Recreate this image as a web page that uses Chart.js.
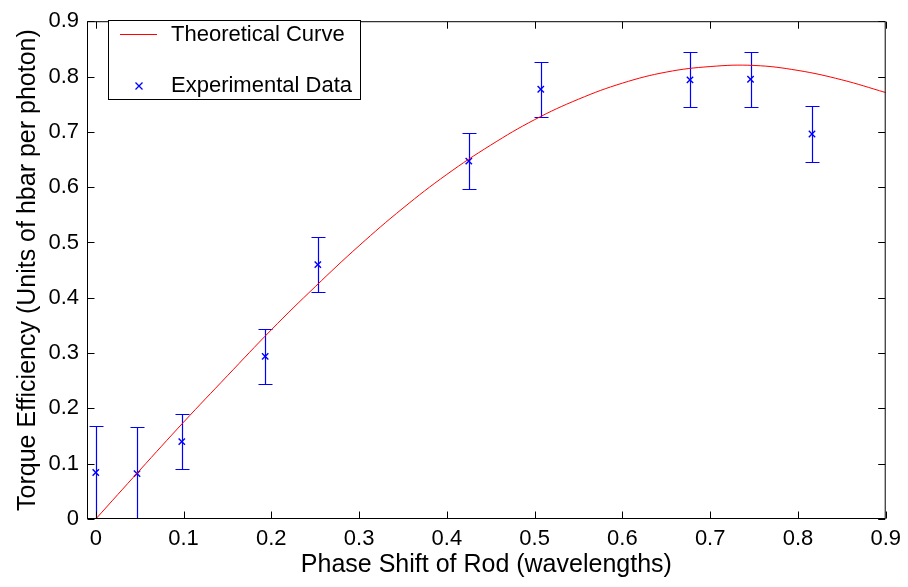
<!DOCTYPE html>
<html>
<head>
<meta charset="utf-8">
<script src="https://cdn.jsdelivr.net/npm/chart.js@4"></script>
<style>
html,body{margin:0;padding:0;background:#fff;}
canvas{display:block;}
</style>
</head>
<body>
<canvas id="c" width="908" height="587"></canvas>
<script>
// ---- data ----
const curveX = [0, 0.05, 0.10, 0.15, 0.20, 0.25, 0.30, 0.35, 0.40, 0.45, 0.50, 0.55, 0.60, 0.65, 0.70, 0.75, 0.80, 0.85, 0.90];
const curveY = [0, 0.088, 0.175, 0.259, 0.342, 0.420, 0.494, 0.562, 0.623, 0.676, 0.722, 0.759, 0.788, 0.808, 0.818, 0.820, 0.811, 0.794, 0.771];
const expX = [0, 0.047, 0.098, 0.193, 0.253, 0.425, 0.507, 0.677, 0.746, 0.816];
const expY = [0.084, 0.082, 0.140, 0.294, 0.460, 0.647, 0.777, 0.794, 0.795, 0.696];
const expErr = [0.085, 0.085, 0.05, 0.05, 0.05, 0.05, 0.05, 0.05, 0.05, 0.05];
const xTickLabels = ['0', '0.1', '0.2', '0.3', '0.4', '0.5', '0.6', '0.7', '0.8', '0.9'];
const yTickLabels = ['0', '0.1', '0.2', '0.3', '0.4', '0.5', '0.6', '0.7', '0.8', '0.9'];
const xTitle = 'Phase Shift of Rod (wavelengths)';
const yTitle = 'Torque Efficiency (Units of hbar per photon)';
const seriesNames = ['Theoretical Curve', 'Experimental Data'];

const FONT = '"Liberation Sans", Arial, Helvetica, sans-serif';
const FS = 22;
const FT = 25;

function tickLabel(arr, v) {
  const i = Math.round(v * 10);
  return arr[i] !== undefined ? arr[i] : '';
}

const frame = {
  id: 'frame',
  beforeDatasetsDraw(chart) {
    const {ctx, chartArea: a, scales} = chart;
    // error bars
    ctx.save();
    ctx.beginPath();
    ctx.rect(a.left, a.top, a.right - a.left, a.bottom - a.top);
    ctx.clip();
    ctx.strokeStyle = '#0000ff';
    ctx.lineWidth = 1.2;
    for (let i = 0; i < expX.length; i++) {
      const px = Math.round(scales.x.getPixelForValue(expX[i])) + 0.5;
      const yt = Math.round(scales.y.getPixelForValue(expY[i] + expErr[i])) + 0.5;
      const yb = Math.round(scales.y.getPixelForValue(expY[i] - expErr[i])) + 0.5;
      ctx.beginPath();
      ctx.moveTo(px, yt); ctx.lineTo(px, yb);
      ctx.moveTo(px - 7, yt); ctx.lineTo(px + 7, yt);
      ctx.moveTo(px - 7, yb); ctx.lineTo(px + 7, yb);
      ctx.stroke();
    }
    ctx.restore();
  },
  afterDraw(chart) {
    const {ctx, chartArea: a, scales} = chart;
    ctx.save();
    ctx.strokeStyle = '#000';
    ctx.lineWidth = 1;
    const L = a.left + 0.5, R = a.right - 0.5, T = a.top + 0.5, B = a.bottom - 0.5;
    ctx.strokeRect(L, T, R - L, B - T);
    const TL = 7;
    ctx.beginPath();
    scales.x.ticks.forEach(t => {
      const px = Math.round(scales.x.getPixelForValue(t.value)) + 0.5;
      ctx.moveTo(px, B); ctx.lineTo(px, B - TL);
      ctx.moveTo(px, T); ctx.lineTo(px, T + TL);
    });
    scales.y.ticks.forEach(t => {
      const py = Math.round(scales.y.getPixelForValue(t.value)) + 0.5;
      ctx.moveTo(L, py); ctx.lineTo(L + TL, py);
      ctx.moveTo(R, py); ctx.lineTo(R - TL, py);
    });
    ctx.stroke();

    // legend
    const ds = chart.data.datasets;
    ctx.fillStyle = '#fff';
    ctx.fillRect(108.5, 20.5, 252, 79);
    ctx.strokeRect(108.5, 20.5, 252, 79);
    ctx.font = FS + 'px ' + FONT;
    ctx.textBaseline = 'middle';
    ctx.textAlign = 'left';
    ctx.fillStyle = '#000';
    // line entry
    ctx.strokeStyle = ds[0].borderColor;
    ctx.beginPath();
    ctx.moveTo(120, 34.5); ctx.lineTo(157, 34.5);
    ctx.stroke();
    ctx.fillText(ds[0].label, 171, 35);
    // marker entry
    ctx.strokeStyle = ds[1].borderColor;
    ctx.lineWidth = 1.3;
    ctx.beginPath();
    ctx.moveTo(135.5, 82.5); ctx.lineTo(142.5, 89.5);
    ctx.moveTo(142.5, 82.5); ctx.lineTo(135.5, 89.5);
    ctx.stroke();
    ctx.fillText(ds[1].label, 171, 86);
    ctx.restore();
  }
};

new Chart(document.getElementById('c'), {
  type: 'scatter',
  data: {
    datasets: [
      {
        label: seriesNames[0],
        data: curveX.map((x, i) => ({x, y: curveY[i]})),
        showLine: true,
        borderColor: '#ff0000',
        borderWidth: 1,
        pointRadius: 0,
        tension: 0.4,
        fill: false
      },
      {
        label: seriesNames[1],
        data: expX.map((x, i) => ({x, y: expY[i]})),
        showLine: false,
        borderColor: '#0000ff',
        backgroundColor: '#0000ff',
        pointStyle: 'crossRot',
        pointRadius: 4.5,
        pointBorderWidth: 1.4
      }
    ]
  },
  options: {
    responsive: false,
    animation: false,
    devicePixelRatio: 1,
    layout: {padding: {top: 15, right: 21, left: 0, bottom: 0}},
    plugins: {legend: {display: false}, tooltip: {enabled: false}},
    scales: {
      x: {
        type: 'linear',
        min: -0.01,
        max: 0.9,
        grid: {display: false, drawTicks: false},
        border: {display: false},
        ticks: {
          stepSize: 0.1,
          includeBounds: false,
          padding: 7,
          color: '#000',
          font: {family: FONT, size: FS},
          maxRotation: 0,
          autoSkip: false,
          callback: v => tickLabel(xTickLabels, v)
        },
        title: {display: true, text: xTitle, color: '#000', font: {family: FONT, size: FT}, padding: {top: 0, bottom: 7}},
        afterFit: s => { s.height = 68; }
      },
      y: {
        type: 'linear',
        min: 0,
        max: 0.9,
        grid: {display: false, drawTicks: false},
        border: {display: false},
        ticks: {
          stepSize: 0.1,
          padding: 8,
          color: '#000',
          font: {family: FONT, size: FS},
          autoSkip: false,
          callback: v => tickLabel(yTickLabels, v)
        },
        title: {display: true, text: yTitle, color: '#000', font: {family: FONT, size: FT}, padding: {top: 13, bottom: 0}},
        afterFit: s => { s.width = 87; }
      }
    }
  },
  plugins: [frame]
});
</script>
</body>
</html>
